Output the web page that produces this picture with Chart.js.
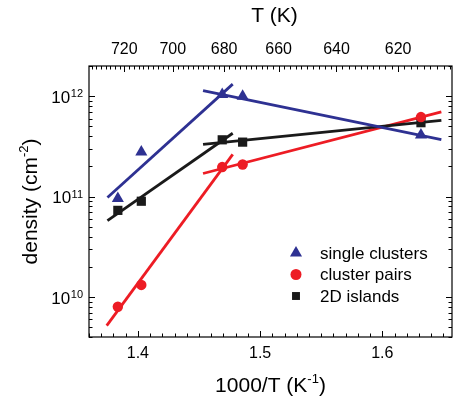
<!DOCTYPE html>
<html><head><meta charset="utf-8">
<script src="https://cdn.jsdelivr.net/npm/chart.js@4/dist/chart.umd.min.js"></script>
<style>html,body{margin:0;padding:0;background:#fff}canvas{display:block}</style>
</head><body>
<canvas id="c" width="459" height="405"></canvas>
<script>
// ---- data ----
const invT = [1.3836, 1.4028, 1.4690, 1.4857, 1.6316];           // 1000/T (1/K)
const singleClusters = [9.6e10, 2.78e11, 1.04e12, 1.0e12, 4.1e11];
const clusterPairs   = [8.0e9, 1.32e10, 1.97e11, 2.09e11, 6.2e11];
const islands2D      = [7.3e10, 9.0e10, 3.68e11, 3.49e11, 5.45e11];
// fitted lines (end points)
const fitSingleHotX = [1.3751, 1.4776], fitSingleHotY = [9.8e10, 1.32e12];
const fitSingleColdX = [1.4533, 1.6483], fitSingleColdY = [1.14e12, 3.69e11];
const fitIslandHotX = [1.3751, 1.4776], fitIslandHotY = [5.76e10, 4.28e11];
const fitIslandColdX = [1.4533, 1.6483], fitIslandColdY = [3.31e11, 5.74e11];
const fitPairHotX = [1.3745, 1.4776], fitPairHotY = [5.2e9, 2.64e11];
const fitPairColdX = [1.4533, 1.6483], fitPairColdY = [1.70e11, 7.0e11];
// ticks
const xTickLabels = [1.4, 1.5, 1.6];
const yTickExponents = [10, 11, 12];
const topTickT = [720, 700, 680, 660, 640, 620];
const seriesNames = ['single clusters', 'cluster pairs', '2D islands'];

const BLUE = '#2e3192', RED = '#ed1c24', BLACK = '#1a1a1a';
const FONT = '"Liberation Sans", Arial, Helvetica, sans-serif';

const pts = (xs, ys) => xs.map((x, i) => ({x, y: ys[i]}));
const pointSet = (label, ys, color, style, r) => ({
  label, data: pts(invT, ys), showLine: false, pointStyle: style,
  pointRadius: r, pointHoverRadius: r, backgroundColor: color, borderColor: color,
  pointBorderWidth: 0
});
const lineSet = (xs, ys, color) => ({
  label: '', data: pts(xs, ys), showLine: true, pointRadius: 0, borderColor: color,
  borderWidth: 2.8, fill: false
});

const MARK = [
  {style: 'triangle', r: 7, color: BLUE},
  {style: 'circle', r: 5.2, color: RED},
  {style: 'rect', r: 6.5, color: BLACK}
];

function drawMark(ctx, m, x, y, r) {
  if (Chart.helpers && Chart.helpers.drawPoint) {
    ctx.fillStyle = m.color; ctx.strokeStyle = m.color;
    Chart.helpers.drawPoint(ctx, {pointStyle: m.style, radius: r, rotation: 0, borderWidth: 0}, x, y);
  }
}

const frame = {
  id: 'frame',
  afterDatasetsDraw(chart) {
    const ctx = chart.ctx, a = chart.chartArea, xs = chart.scales.x, ys = chart.scales.y;
    ctx.save();
    ctx.strokeStyle = '#000';
    ctx.lineWidth = 1.2;
    ctx.strokeRect(a.left, a.top, a.right - a.left, a.bottom - a.top);
    ctx.lineWidth = 1;
    ctx.beginPath();
    const MAJ = 6, MIN = 3.5;
    for (let k = Math.ceil(xs.min * 100 - 1e-6); k <= Math.floor(xs.max * 100 + 1e-6); k++) {
      const px = Math.round(xs.getPixelForValue(k / 100)) + 0.5;
      const L = (k % 10 === 0) ? MAJ : MIN;
      ctx.moveTo(px, a.bottom); ctx.lineTo(px, a.bottom - L);
    }
    for (let T = 600; T <= 740; T += 2) {
      const v = 1000 / T; if (v < xs.min || v > xs.max) continue;
      const px = Math.round(xs.getPixelForValue(v)) + 0.5;
      const L = topTickT.includes(T) ? MAJ : MIN;
      ctx.moveTo(px, a.top); ctx.lineTo(px, a.top + L);
    }
    for (let e = 9; e <= 12; e++) for (let m = 1; m <= 9; m++) {
      const v = m * Math.pow(10, e);
      if (v < ys.min * 0.999 || v > ys.max * 1.001) continue;
      const py = Math.round(ys.getPixelForValue(v)) + 0.5;
      const L = m === 1 ? MAJ : MIN;
      ctx.moveTo(a.left, py); ctx.lineTo(a.left + L, py);
      ctx.moveTo(a.right, py); ctx.lineTo(a.right - L, py);
    }
    ctx.stroke();

    ctx.fillStyle = '#000';
    // bottom tick labels
    ctx.font = '16px ' + FONT; ctx.textAlign = 'center'; ctx.textBaseline = 'alphabetic';
    xTickLabels.forEach(v => ctx.fillText(v.toFixed(1), xs.getPixelForValue(v), a.bottom + 21));
    // top tick labels
    topTickT.forEach(T => ctx.fillText(String(T), xs.getPixelForValue(1000 / T), a.top - 12));
    // y tick labels 10^n
    yTickExponents.forEach(e => {
      const py = ys.getPixelForValue(Math.pow(10, e));
      ctx.font = '11px ' + FONT; ctx.textAlign = 'left';
      const sup = String(e), sw = ctx.measureText(sup).width;
      const right = a.left - 6;
      ctx.fillText(sup, right - sw, py + 1);
      ctx.font = '17px ' + FONT; ctx.textAlign = 'right';
      ctx.fillText('10', right - sw - 0.5, py + 6.5);
    });
    // composite title helper
    function titleParts(parts, cx, baseY) {
      let w = 0;
      parts.forEach(p => { ctx.font = p.size + 'px ' + FONT; p.w = ctx.measureText(p.t).width; w += p.w; });
      let x = cx - w / 2;
      ctx.textAlign = 'left';
      parts.forEach(p => { ctx.font = p.size + 'px ' + FONT; ctx.fillText(p.t, x, baseY + (p.dy || 0)); x += p.w; });
    }
    const cx = (a.left + a.right) / 2;
    titleParts([{t: '1000/T (K', size: 21}, {t: '-1', size: 13, dy: -9}, {t: ')', size: 21}], cx, a.bottom + 55);
    titleParts([{t: 'T (K)', size: 21}], cx + 4, 22);
    ctx.save();
    ctx.translate(37, (a.top + a.bottom) / 2);
    ctx.rotate(-Math.PI / 2);
    titleParts([{t: 'density (cm', size: 21}, {t: '-2', size: 13, dy: -9}, {t: ')', size: 21}], 0, 0);
    ctx.restore();

    // legend
    const lx = 296, ly = 253, dy = 21.5;
    seriesNames.forEach((name, i) => {
      const m = MARK[i];
      const rr = i === 2 ? 5.6 : (i === 1 ? 5.5 : 7);
      drawMark(ctx, m, lx, ly + i * dy, rr);
      ctx.fillStyle = '#000';
      ctx.font = '17px ' + FONT; ctx.textAlign = 'left'; ctx.textBaseline = 'middle';
      ctx.fillText(name, 320, ly + i * dy + 1);
    });
    ctx.restore();
  }
};

new Chart(document.getElementById('c'), {
  type: 'scatter',
  data: {
    datasets: [
      pointSet(seriesNames[0], singleClusters, BLUE, 'triangle', 7),
      pointSet(seriesNames[1], clusterPairs, RED, 'circle', 5.2),
      pointSet(seriesNames[2], islands2D, BLACK, 'rect', 6.5),
      lineSet(fitSingleHotX, fitSingleHotY, BLUE),
      lineSet(fitSingleColdX, fitSingleColdY, BLUE),
      lineSet(fitIslandHotX, fitIslandHotY, BLACK),
      lineSet(fitIslandColdX, fitIslandColdY, BLACK),
      lineSet(fitPairHotX, fitPairHotY, RED),
      lineSet(fitPairColdX, fitPairColdY, RED)
    ]
  },
  options: {
    responsive: false, animation: false, devicePixelRatio: 1,
    layout: {padding: {left: 89, top: 66, right: 3, bottom: 68}},
    plugins: {legend: {display: false}, tooltip: {enabled: false}},
    scales: {
      x: {type: 'linear', min: 1.36, max: 1.657, display: false},
      y: {type: 'logarithmic', min: 4e9, max: 2e12, display: false}
    }
  },
  plugins: [frame]
});
</script>
</body></html>
